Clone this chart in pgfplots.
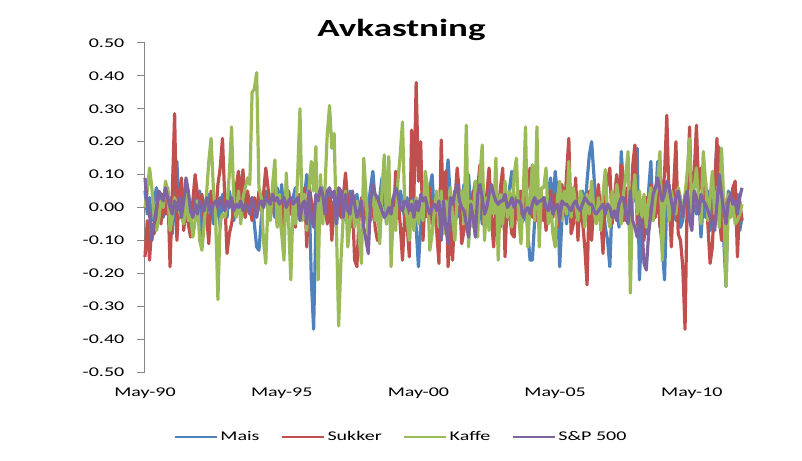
\documentclass[border=0pt]{standalone}
\usepackage{fontspec}
\setmainfont{Carlito}[FakeStretch=1.5]
\usepackage{pgfplots}
\usepackage{pgfplotstable}
\pgfplotsset{compat=1.18}
\definecolor{cMais}{HTML}{4F81BD}
\definecolor{cSuk}{HTML}{C0504D}
\definecolor{cKaf}{HTML}{9BBB59}
\definecolor{cSP}{HTML}{8064A2}
\definecolor{axgray}{HTML}{868686}
\pgfplotstableread{
i M S K P
0 0.05 -0.15 0.00 0.09
1 -0.02 -0.04 0.05 0.01
2 0.03 -0.16 0.12 -0.02
3 -0.04 -0.05 0.06 -0.10
4 0.02 -0.08 -0.03 -0.05
5 0.06 -0.03 -0.07 0.00
6 -0.01 0.02 -0.04 0.05
7 0.04 -0.05 0.02 0.04
8 -0.03 0.04 0.00 0.02
9 0.02 -0.02 0.08 0.06
10 0.00 0.06 0.05 0.03
11 0.03 -0.18 -0.07 0.00
12 -0.08 0.05 -0.03 -0.02
13 0.02 0.285 0.03 0.02
14 0.14 -0.10 0.00 -0.01
15 -0.03 0.04 -0.01 0.03
16 0.04 0.09 -0.03 -0.03
17 -0.05 -0.07 -0.05 0.02
18 0.05 0.01 0.04 0.09
19 0.02 -0.05 -0.04 0.05
20 -0.04 -0.09 -0.02 -0.01
21 0.00 0.02 -0.09 -0.03
22 0.06 0.10 -0.04 0.01
23 -0.02 0.04 0.02 -0.02
24 0.05 0.00 -0.10 0.02
25 -0.11 0.04 -0.13 0.00
26 0.02 -0.04 -0.05 -0.01
27 -0.03 -0.02 0.04 0.03
28 0.04 -0.11 0.14 0.01
29 0.01 0.05 0.21 -0.02
30 -0.05 0.02 0.06 0.01
31 0.03 -0.03 -0.03 0.02
32 0.00 0.07 -0.28 0.00
33 -0.06 0.12 -0.04 0.03
34 0.04 0.21 -0.02 0.01
35 0.02 0.03 -0.03 -0.01
36 -0.03 -0.14 0.01 0.02
37 0.05 -0.08 0.10 0.00
38 0.01 -0.05 0.245 0.03
39 -0.04 0.00 0.01 -0.01
40 0.03 0.06 -0.03 0.01
41 0.07 0.11 0.05 0.00
42 0.09 0.02 -0.05 0.02
43 0.02 0.115 0.03 -0.01
44 -0.03 -0.03 0.06 0.01
45 0.04 0.05 0.09 0.00
46 -0.01 0.00 0.07 -0.02
47 0.03 -0.04 0.35 0.03
48 -0.05 0.03 0.36 0.00
49 -0.12 -0.02 0.41 -0.03
50 -0.13 0.05 0.06 0.01
51 -0.04 -0.01 0.03 0.02
52 0.02 0.04 -0.10 0.00
53 0.05 0.12 -0.17 0.03
54 -0.02 0.06 0.02 0.02
55 0.04 -0.03 -0.04 0.01
56 0.01 0.02 0.07 0.04
57 -0.03 0.07 0.145 0.02
58 0.06 -0.05 -0.06 0.03
59 0.00 0.01 0.04 0.01
60 0.07 -0.08 -0.08 0.02
61 -0.04 0.03 -0.16 0.03
62 0.02 -0.03 0.105 0.00
63 0.05 0.05 -0.04 0.02
64 -0.02 -0.02 -0.22 0.03
65 0.03 0.02 0.02 0.01
66 0.06 -0.06 -0.05 0.02
67 -0.01 0.04 0.10 0.03
68 0.04 0.01 0.30 -0.04
69 0.02 -0.03 -0.04 0.01
70 0.03 0.06 0.04 0.02
71 0.10 -0.12 -0.07 -0.05
72 0.05 0.07 0.06 0.05
73 -0.22 0.02 0.14 -0.03
74 -0.37 -0.04 0.05 -0.06
75 -0.05 0.03 0.185 0.04
76 0.04 0.05 -0.22 0.02
77 0.01 -0.02 0.10 0.06
78 0.06 0.04 -0.05 0.04
79 -0.02 0.01 0.06 -0.02
80 0.03 -0.05 0.225 0.05
81 0.05 0.03 0.31 0.06
82 -0.03 -0.10 0.18 0.03
83 0.02 0.02 0.225 0.05
84 -0.06 0.05 -0.06 -0.05
85 0.04 0.02 -0.36 0.06
86 0.02 -0.03 -0.16 0.05
87 -0.04 0.03 -0.03 -0.03
88 0.03 0.105 0.05 0.04
89 -0.02 0.01 -0.12 -0.01
90 0.05 -0.05 -0.04 -0.02
91 -0.06 0.02 0.03 0.05
92 0.01 -0.16 -0.06 0.01
93 0.04 -0.18 0.02 -0.03
94 -0.03 -0.02 -0.09 -0.01
95 0.02 0.03 -0.17 0.02
96 -0.05 -0.04 0.15 -0.06
97 0.03 0.02 0.04 -0.10
98 0.00 -0.01 -0.10 -0.14
99 0.06 -0.04 0.01 0.02
100 0.11 0.03 0.06 0.07
101 0.02 -0.06 -0.04 0.04
102 -0.04 -0.10 0.02 0.03
103 0.03 -0.09 -0.11 0.01
104 0.09 0.04 0.05 -0.01
105 0.02 0.08 0.16 -0.03
106 -0.05 0.05 -0.05 -0.02
107 0.04 -0.03 0.155 0.00
108 -0.02 0.02 -0.18 -0.02
109 0.03 -0.06 0.00 0.03
110 0.01 0.11 -0.07 0.06
111 -0.03 0.03 0.08 0.04
112 0.05 -0.05 0.16 0.00
113 0.02 -0.16 0.26 -0.01
114 -0.04 -0.02 0.00 0.02
115 0.03 -0.05 -0.03 0.01
116 -0.02 -0.15 -0.10 -0.01
117 0.06 0.235 0.02 0.01
118 0.01 0.03 -0.07 -0.03
119 -0.06 0.38 0.03 0.02
120 -0.18 0.08 -0.05 -0.01
121 -0.05 0.20 0.02 0.04
122 0.04 -0.10 -0.04 0.02
123 -0.02 0.04 0.11 0.03
124 0.03 -0.03 0.06 0.00
125 0.06 0.06 -0.13 -0.02
126 0.10 -0.05 -0.08 0.00
127 -0.03 0.02 -0.01 0.01
128 0.02 -0.07 0.05 -0.01
129 -0.04 -0.17 -0.06 0.02
130 -0.10 0.205 0.05 -0.09
131 0.02 -0.03 -0.08 0.02
132 0.06 0.11 0.02 -0.06
133 0.145 -0.18 -0.04 -0.11
134 0.03 -0.05 0.06 0.03
135 -0.05 -0.16 -0.03 0.01
136 0.02 0.02 -0.10 0.05
137 -0.03 0.12 0.04 0.07
138 0.05 0.04 0.01 0.02
139 0.01 -0.11 0.05 0.00
140 0.07 -0.07 -0.05 -0.01
141 0.03 0.00 0.25 -0.05
142 0.10 0.03 -0.12 -0.09
143 -0.02 -0.04 0.02 0.01
144 0.04 0.05 -0.06 -0.03
145 0.08 -0.02 0.08 -0.09
146 -0.03 0.06 -0.09 0.04
147 0.02 0.13 0.10 0.07
148 -0.05 -0.02 0.19 0.03
149 0.04 -0.06 -0.10 -0.02
150 0.01 0.04 0.03 0.00
151 -0.04 0.12 -0.07 0.04
152 0.03 -0.03 0.06 0.07
153 0.05 -0.12 -0.02 0.04
154 -0.02 0.02 0.15 0.02
155 0.04 -0.05 -0.16 0.01
156 -0.06 0.06 0.04 0.02
157 0.02 0.12 -0.05 0.02
158 0.04 -0.15 0.08 0.04
159 -0.03 0.03 -0.03 0.00
160 0.06 -0.02 0.05 0.01
161 0.11 -0.08 -0.06 0.03
162 0.03 -0.09 0.10 0.00
163 -0.02 0.03 0.15 0.02
164 0.05 -0.04 -0.03 0.02
165 0.00 0.05 -0.11 0.01
166 -0.04 0.00 0.04 -0.03
167 0.03 0.04 0.245 -0.01
168 -0.08 0.07 -0.12 0.00
169 -0.16 0.12 0.02 -0.02
170 -0.16 -0.03 0.13 0.01
171 -0.04 0.02 -0.04 0.03
172 0.03 -0.04 0.245 0.01
173 0.05 0.03 -0.12 0.02
174 0.03 -0.04 0.06 0.02
175 -0.04 0.03 0.06 0.03
176 0.02 -0.07 0.12 0.00
177 0.05 0.02 -0.05 -0.01
178 0.09 0.05 0.02 0.03
179 -0.02 -0.03 -0.08 -0.02
180 0.11 0.04 -0.12 0.00
181 0.04 -0.06 0.03 0.01
182 -0.18 0.02 0.08 -0.04
183 -0.03 0.07 -0.04 0.02
184 0.02 -0.02 0.05 0.01
185 -0.05 0.10 -0.02 0.01
186 0.04 0.21 0.14 0.00
187 0.01 -0.08 -0.03 -0.01
188 0.06 -0.05 0.06 0.01
189 -0.02 0.09 0.01 0.02
190 0.03 -0.10 -0.04 0.00
191 -0.01 0.03 0.05 -0.01
192 0.05 -0.04 0.03 0.01
193 -0.03 -0.12 -0.06 0.03
194 0.08 -0.235 0.04 0.02
195 0.16 0.05 -0.02 0.01
196 0.20 -0.10 0.08 0.01
197 0.10 0.02 -0.01 -0.01
198 -0.02 0.01 -0.05 -0.02
199 0.03 0.07 0.03 -0.01
200 -0.04 -0.03 -0.07 0.00
201 0.02 -0.14 0.04 0.01
202 -0.06 0.04 0.115 -0.02
203 -0.10 0.08 -0.02 0.01
204 -0.18 0.12 -0.06 0.00
205 0.02 -0.05 0.05 -0.03
206 -0.03 0.03 -0.03 -0.01
207 0.05 0.10 0.07 -0.04
208 -0.06 0.00 0.02 0.01
209 0.17 0.13 -0.05 0.03
210 0.06 -0.04 0.04 0.03
211 -0.04 0.06 0.10 -0.02
212 0.03 0.02 0.17 -0.05
213 -0.02 -0.06 -0.26 0.05
214 0.05 0.125 0.03 -0.04
215 0.02 0.19 0.10 -0.06
216 0.18 -0.05 -0.02 -0.09
217 -0.22 -0.06 0.05 -0.03
218 -0.05 0.02 -0.03 -0.05
219 0.03 -0.10 0.04 -0.17
220 -0.08 0.03 -0.06 -0.19
221 0.05 -0.04 0.02 -0.08
222 0.14 0.07 0.06 -0.02
223 -0.04 0.05 -0.04 0.04
224 0.02 -0.03 0.03 0.06
225 0.14 0.08 0.08 0.09
226 -0.05 -0.06 0.17 0.05
227 -0.12 0.04 -0.16 0.02
228 -0.22 0.10 0.02 0.04
229 0.03 0.28 0.07 0.08
230 0.07 0.02 -0.04 0.06
231 -0.02 -0.12 0.05 0.02
232 0.05 0.06 0.01 -0.02
233 -0.04 0.20 -0.02 0.03
234 0.01 -0.08 0.06 0.05
235 -0.06 -0.10 0.03 0.01
236 -0.04 -0.18 -0.03 -0.03
237 0.04 -0.37 0.04 0.03
238 0.02 0.05 0.11 0.05
239 -0.03 0.245 0.21 -0.04
240 0.06 -0.05 -0.03 -0.07
241 0.01 0.10 0.06 0.05
242 -0.02 0.25 0.12 0.03
243 0.04 0.05 0.02 -0.02
244 -0.09 0.12 -0.05 0.04
245 0.02 0.02 0.17 0.02
246 -0.03 0.08 0.08 0.01
247 0.05 -0.05 -0.04 -0.01
248 -0.07 -0.17 0.03 -0.03
249 0.03 -0.12 0.11 -0.05
250 0.08 0.05 -0.02 -0.07
251 0.19 0.21 0.05 0.01
252 0.18 -0.02 -0.06 0.10
253 0.03 -0.10 0.18 0.04
254 -0.10 0.03 0.02 -0.01
255 -0.24 -0.06 -0.24 -0.05
256 0.05 0.04 0.04 0.02
257 0.02 -0.03 -0.03 0.04
258 0.06 0.06 0.01 0.01
259 -0.02 0.08 -0.05 0.02
260 0.04 -0.15 -0.04 -0.02
261 -0.07 0.02 -0.02 0.03
262 -0.03 -0.04 0.01 0.06
}\data
\begin{document}
\begin{tikzpicture}
\useasboundingbox (-108.75pt,-66pt) rectangle (492.75pt,279pt);
\begin{axis}[
  at={(0pt,0pt)}, anchor=south west,
  scale only axis, width=447.75pt, height=246.75pt,
  xmin=0, xmax=262, ymin=-0.5, ymax=0.5,
  axis lines=left, axis line style={-},
  x axis line style={draw=none},
  y axis line style={draw=axgray, line width=0.75pt},
  tick align=outside, major tick length=6pt,
  ytick={-0.5,-0.4,-0.3,-0.2,-0.1,0,0.1,0.2,0.3,0.4,0.5},
  ytick style={draw=axgray, line width=0.75pt},
  xtick={0,60,120,180,240},
  xticklabels={May-90,May-95,May-00,May-05,May-10},
  xtick style={draw=none},
  yticklabel style={xshift=-6pt, /pgf/number format/.cd, fixed, fixed zerofill, precision=2, assume math mode=true},
  xticklabel style={yshift=-2.25pt},
  ticklabel style={font=\fontsize{10}{12}\selectfont, text=black},
  title={Avkastning},
  title style={at={(axis description cs:0.4296,0.994)}, anchor=base, font=\fontsize{18.5}{22}\selectfont\bfseries},
  legend style={at={(axis description cs:0.4296,-0.198)}, anchor=center, draw=none, fill=none,
     font=\fontsize{10}{12}\selectfont, legend columns=4,
     /tikz/every even column/.append style={column sep=14pt}},
  legend image code/.code={\draw[#1, line width=1.5pt] (0pt,0pt) -- (31.5pt,0pt);},
  every axis plot/.append style={line width=2.4pt, line join=round, mark=none},
  clip=false,
]
\addplot[cMais] table[x=i, y=M] {\data};
\addlegendentry{Mais}
\addplot[cSuk] table[x=i, y=S] {\data};
\addlegendentry{Sukker}
\addplot[cKaf] table[x=i, y=K] {\data};
\addlegendentry{Kaffe}
\addplot[cSP] table[x=i, y=P] {\data};
\addlegendentry{S\&P 500}
\end{axis}
\end{tikzpicture}
\end{document}
